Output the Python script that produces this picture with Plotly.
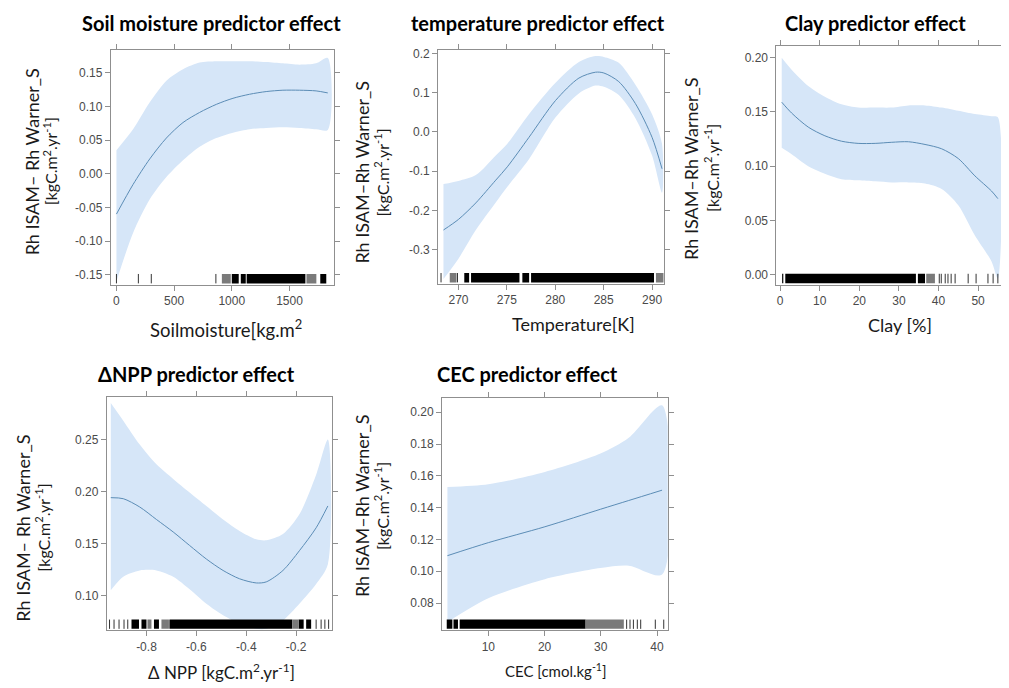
import plotly.graph_objects as go

# ---------------- data ----------------
soil_x = [0, 144, 289, 433, 577, 721, 866, 1010, 1154, 1298, 1443, 1587, 1731, 1832]
soil_fit = [-0.060, -0.016, 0.022, 0.053, 0.076, 0.091, 0.103, 0.112, 0.118, 0.122, 0.124, 0.124, 0.123, 0.120]
soil_upper = [0.035, 0.066, 0.106, 0.138, 0.155, 0.165, 0.167, 0.167, 0.167, 0.166, 0.164, 0.162, 0.164, 0.172]
soil_lower = [-0.160, -0.088, -0.038, -0.005, 0.020, 0.040, 0.053, 0.061, 0.066, 0.068, 0.069, 0.068, 0.066, 0.065]
soil_rug_lines = [0, 190, 302, 862]
soil_rug_black = [(1000, 1060), (1078, 1121), (1129, 1638), (1767, 1819)]
soil_rug_gray = [(914, 991), (1647, 1733)]
soil_xticks = [0, 500, 1000, 1500]
soil_xticktext = ["0", "500", "1000", "1500"]
soil_yticks = [-0.15, -0.10, -0.05, 0.00, 0.05, 0.10, 0.15]
soil_yticktext = ["-0.15", "-0.10", "-0.05", "0.00", "0.05", "0.10", "0.15"]

temp_x = [268.45, 270.0, 271.79, 273.85, 275.05, 277.28, 280.03, 282.44, 284.16, 285.02, 286.56, 288.28, 290.0, 291.03]
temp_fit = [-0.25, -0.223, -0.181, -0.123, -0.089, -0.014, 0.080, 0.137, 0.152, 0.150, 0.128, 0.072, -0.014, -0.094]
temp_upper = [-0.133, -0.125, -0.110, -0.060, -0.030, 0.045, 0.125, 0.178, 0.193, 0.191, 0.176, 0.120, 0.045, -0.031]
temp_lower = [-0.375, -0.323, -0.250, -0.180, -0.140, -0.070, 0.037, 0.098, 0.118, 0.115, 0.094, 0.035, -0.060, -0.155]
temp_rug_lines = [268.2, 269.9]
temp_rug_black = [(270.6, 271.1), (271.3, 276.3), (276.6, 277.3), (277.5, 290.2)]
temp_rug_gray = [(269.1, 269.8), (290.4, 291.2)]
temp_xticks = [270, 275, 280, 285, 290]
temp_xticktext = ["270", "275", "280", "285", "290"]
temp_yticks = [-0.3, -0.2, -0.1, 0.0, 0.1, 0.2]
temp_yticktext = ["-0.3", "-0.2", "-0.1", "0.0", "0.1", "0.2"]

clay_x = [0.4, 2.9, 7.1, 11.3, 15.5, 19.7, 24.0, 28.2, 32.4, 36.6, 40.8, 45.0, 49.2, 53.4, 55.0]
clay_fit = [0.159, 0.149, 0.136, 0.128, 0.123, 0.121, 0.121, 0.122, 0.1225, 0.120, 0.116, 0.107, 0.091, 0.077, 0.070]
clay_upper = [0.200, 0.189, 0.174, 0.164, 0.157, 0.154, 0.154, 0.154, 0.156, 0.156, 0.154, 0.151, 0.148, 0.146, 0.145]
clay_lower = [0.117, 0.111, 0.100, 0.093, 0.088, 0.087, 0.086, 0.085, 0.085, 0.084, 0.079, 0.064, 0.036, 0.012, -0.004]
clay_rug_lines = [40.2, 40.7, 41.7, 42.4, 43.2, 44.2, 47.5, 49.5, 52.5, 53.8, 55.0]
clay_rug_black = [(0.5, 0.8), (1.3, 34.3), (34.8, 36.6)]
clay_rug_gray = [(36.9, 39.1)]
clay_xticks = [0, 10, 20, 30, 40, 50]
clay_xticktext = ["0", "10", "20", "30", "40", "50"]
clay_yticks = [0.00, 0.05, 0.10, 0.15, 0.20]
clay_yticktext = ["0.00", "0.05", "0.10", "0.15", "0.20"]

npp_x = [-0.943, -0.893, -0.827, -0.760, -0.693, -0.627, -0.560, -0.493, -0.427, -0.360, -0.320, -0.253, -0.187, -0.120, -0.073]
npp_fit = [0.194, 0.193, 0.185, 0.173, 0.161, 0.148, 0.135, 0.124, 0.116, 0.112, 0.113, 0.124, 0.143, 0.165, 0.186]
npp_upper = [0.285, 0.268, 0.245, 0.226, 0.212, 0.199, 0.186, 0.173, 0.162, 0.154, 0.153, 0.159, 0.178, 0.216, 0.250]
npp_lower = [0.105, 0.118, 0.124, 0.124, 0.118, 0.106, 0.092, 0.081, 0.073, 0.068, 0.068, 0.076, 0.092, 0.111, 0.130]
npp_rug_lines = [-0.948, -0.93, -0.91, -0.89, -0.875, -0.12, -0.10, -0.085, -0.07]
npp_rug_black = [(-0.86, -0.83), (-0.82, -0.80), (-0.77, -0.75), (-0.708, -0.216), (-0.19, -0.17), (-0.16, -0.14)]
npp_rug_gray = [(-0.796, -0.78), (-0.74, -0.71), (-0.216, -0.19)]
npp_xticks = [-0.8, -0.6, -0.4, -0.2]
npp_xticktext = ["-0.8", "-0.6", "-0.4", "-0.2"]
npp_yticks = [0.10, 0.15, 0.20, 0.25]
npp_yticktext = ["0.10", "0.15", "0.20", "0.25"]

cec_x = [2.72, 10.0, 20.06, 29.94, 34.97, 40.9]
cec_fit = [0.1098, 0.118, 0.128, 0.139, 0.1445, 0.151]
cec_upper = [0.153, 0.1547, 0.1624, 0.174, 0.184, 0.2044]
cec_lower = [0.068, 0.083, 0.095, 0.102, 0.1035, 0.098]
cec_rug_lines = [34.6, 35.2, 35.8, 36.5, 37.1, 39.7, 41.2]
cec_rug_black = [(2.6, 3.6), (3.8, 4.6), (4.9, 27.3)]
cec_rug_gray = [(27.3, 34.1)]
cec_xticks = [10, 20, 30, 40]
cec_xticktext = ["10", "20", "30", "40"]
cec_yticks = [0.08, 0.10, 0.12, 0.14, 0.16, 0.18, 0.20]
cec_yticktext = ["0.08", "0.10", "0.12", "0.14", "0.16", "0.18", "0.20"]

titles = ["Soil moisture predictor effect", "temperature predictor effect", "Clay predictor effect",
          "\u0394NPP predictor effect", "CEC predictor effect"]
xtitles = ["Soilmoisture[kg.m<sup>2</sup>", "Temperature[K]", "Clay [%]",
           "\u0394 NPP [kgC.m<sup>2</sup>.yr<sup>-1</sup>]", "CEC [cmol.kg<sup>-1</sup>]"]
ytitles_1 = ["Rh ISAM\u2013 Rh Warner_S", "Rh ISAM\u2013Rh Warner_S", "Rh ISAM\u2013Rh Warner_S",
             "Rh ISAM\u2013 Rh Warner_S", "Rh ISAM\u2013Rh Warner_S"]
ytitles_2 = ["[kgC.m<sup>2</sup>.yr<sup>-1</sup>]"] * 5

# ---------------- layout geometry (screen pixels of the page) ----------------
OFF = 8                     # default page margin of the html body
W, H = 1001, 680            # figure size so that it fits in the 1009x688 window


def fx(px):
    return (px - OFF) / W


def fy(py):
    return 1 - (py - OFF) / H


panels = [
    dict(box=(111, 335, 47, 283), xr=(-49, 1889), yr=(-0.165, 0.184),
         x=soil_x, fit=soil_fit, up=soil_upper, lo=soil_lower,
         rl=soil_rug_lines, rb=soil_rug_black, rg=soil_rug_gray,
         xt=(soil_xticks, soil_xticktext), yt=(soil_yticks, soil_yticktext),
         title=(212, 20), xtitle=(226, 327, 18.5), ytitle=(32, 50, 159)),
    dict(box=(439, 665, 47, 282), xr=(267.9, 291.2), yr=(-0.387, 0.209),
         x=temp_x, fit=temp_fit, up=temp_upper, lo=temp_lower,
         rl=temp_rug_lines, rb=temp_rug_black, rg=temp_rug_gray,
         xt=(temp_xticks, temp_xticktext), yt=(temp_yticks, temp_yticktext),
         title=(539, 20), xtitle=(575, 322, 18), ytitle=(363, 382, 170)),
    dict(box=(778, 1005, 43, 283), xr=(-0.93, 56.3), yr=(-0.0095, 0.211),
         x=clay_x, fit=clay_fit, up=clay_upper, lo=clay_lower,
         rl=clay_rug_lines, rb=clay_rug_black, rg=clay_rug_gray,
         xt=(clay_xticks, clay_xticktext), yt=(clay_yticks, clay_yticktext),
         title=(877, 20), xtitle=(902, 323, 18), ytitle=(693, 713, 166)),
    dict(box=(107, 333, 396, 630), xr=(-0.959, -0.055), yr=(0.0665, 0.2905),
         x=npp_x, fit=npp_fit, up=npp_upper, lo=npp_lower,
         rl=npp_rug_lines, rb=npp_rug_black, rg=npp_rug_gray,
         xt=(npp_xticks, npp_xticktext), yt=(npp_yticks, npp_yticktext),
         title=(197, 373), xtitle=(222, 671, 17), ytitle=(23, 43, 527)),
    dict(box=(443, 669, 397, 630), xr=(1.78, 41.9), yr=(0.0629, 0.2088),
         x=cec_x, fit=cec_fit, up=cec_upper, lo=cec_lower,
         rl=cec_rug_lines, rb=cec_rug_black, rg=cec_rug_gray,
         xt=(cec_xticks, cec_xticktext), yt=(cec_yticks, cec_yticktext),
         title=(529, 373), xtitle=(557, 670, 15), ytitle=(363, 383, 505)),
]

BAND = "#d6e6f8"
LINE = "#5b8cb5"
AXC = "#8f8f8f"
TXT = "#1a1a1a"
TITLE_FONT = "Lato"
LABEL_FONT = "Lato"

fig = go.Figure()
layout = dict(width=W, height=H, margin=dict(l=0, r=0, t=0, b=0),
              paper_bgcolor="white", plot_bgcolor="white", showlegend=False)
shapes = []
annotations = []

for i, p in enumerate(panels):
    k = "" if i == 0 else str(i + 1)
    xa, ya = "x" + k, "y" + k
    x0, x1, y0, y1 = p["box"]
    fig.add_trace(go.Scatter(x=p["x"] + p["x"][::-1], y=p["up"] + p["lo"][::-1],
                             fill="toself", fillcolor=BAND, mode="lines",
                             line=dict(width=0, color=BAND, shape="spline", smoothing=0.8),
                             hoverinfo="skip", xaxis=xa, yaxis=ya))
    fig.add_trace(go.Scatter(x=p["x"], y=p["fit"], mode="lines",
                             line=dict(width=1, color=LINE, shape="spline", smoothing=0.8),
                             xaxis=xa, yaxis=ya))
    axis_common = dict(showline=True, linecolor=AXC, linewidth=1, mirror="ticks",
                       ticks="outside", ticklen=5, tickcolor=AXC, tickwidth=1,
                       showgrid=False, zeroline=False,
                       tickfont=dict(family="Liberation Sans", size=12, color="#4a4a4a"))
    layout["xaxis" + k] = dict(domain=[fx(x0), fx(x1)], range=list(p["xr"]), anchor=ya,
                               tickvals=p["xt"][0], ticktext=p["xt"][1], **axis_common)
    layout["yaxis" + k] = dict(domain=[fy(y1), fy(y0)], range=list(p["yr"]), anchor=xa,
                               tickvals=p["yt"][0], ticktext=p["yt"][1], **axis_common)
    for a, b in p["rb"]:
        shapes.append(dict(type="rect", xref=xa, yref=ya + " domain", x0=a, x1=b, y0=0.006, y1=0.046,
                           fillcolor="black", line=dict(width=0), layer="above"))
    for a, b in p["rg"]:
        shapes.append(dict(type="rect", xref=xa, yref=ya + " domain", x0=a, x1=b, y0=0.006, y1=0.046,
                           fillcolor="#7a7a7a", line=dict(width=0), layer="above"))
    for v in p["rl"]:
        shapes.append(dict(type="line", xref=xa, yref=ya + " domain", x0=v, x1=v, y0=0.006, y1=0.046,
                           line=dict(width=1, color="#333333"), layer="above"))
    tx, ty = p["title"]
    annotations.append(dict(text="<b>" + titles[i] + "</b>", xref="paper", yref="paper",
                            x=fx(tx), y=fy(ty), xanchor="center", yanchor="middle", showarrow=False,
                            font=dict(family=TITLE_FONT, size=20, color="black")))
    xx, xy, fs = p["xtitle"]
    annotations.append(dict(text=xtitles[i], xref="paper", yref="paper",
                            x=fx(xx), y=fy(xy), xanchor="center", yanchor="middle", showarrow=False,
                            font=dict(family=LABEL_FONT, size=fs, color=TXT)))
    l1x, l2x, ly = p["ytitle"]
    annotations.append(dict(text=ytitles_1[i], xref="paper", yref="paper", textangle=-90,
                            x=fx(l1x), y=fy(ly), xanchor="center", yanchor="middle", showarrow=False,
                            font=dict(family=LABEL_FONT, size=18, color=TXT)))
    annotations.append(dict(text=ytitles_2[i], xref="paper", yref="paper", textangle=-90,
                            x=fx(l2x), y=fy(ly), xanchor="center", yanchor="middle", showarrow=False,
                            font=dict(family=LABEL_FONT, size=16, color=TXT)))

layout["shapes"] = shapes
layout["annotations"] = annotations
fig.update_layout(**layout)
fig.write_html("out.html")
